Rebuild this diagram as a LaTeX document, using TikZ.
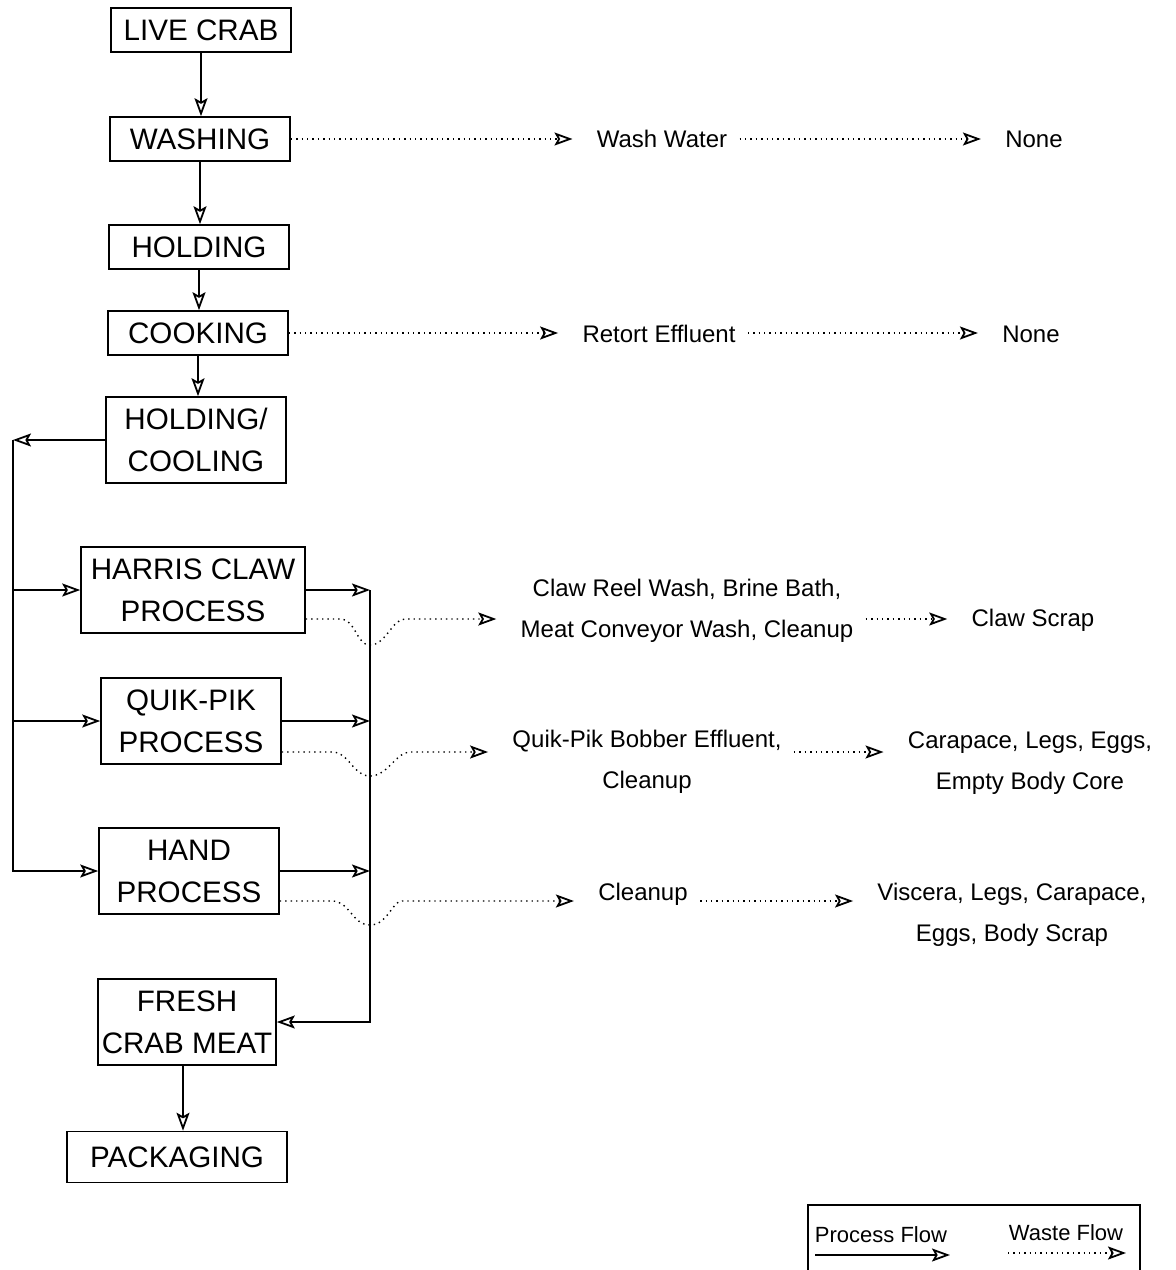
\documentclass[tikz,border=0pt]{standalone}
\usepackage{fontspec}
\setmainfont{Liberation Sans}
\usetikzlibrary{arrows.meta,positioning,calc}
\newcommand{\boxfont}{\fontsize{14.8}{21}\selectfont}
\newcommand{\wastefont}{\fontsize{12}{20.5}\selectfont}
\newcommand{\keyfont}{\fontsize{11}{13}\selectfont}
\tikzset{stepbox/.style={draw,line width=0.8pt,minimum width=90pt,minimum height=22pt,
    inner sep=2pt,align=center,font=\boxfont},
  twoline/.style={stepbox,minimum height=43pt},
  wastetxt/.style={inner xsep=6pt,inner ysep=2pt,align=center,font=\wastefont},
  flow/.style={-{Stealth[open,length=9pt,width=6.5pt,inset=1.8pt,line width=0.9pt]},line width=0.7pt},
  waste/.style={flow,dotted,shorten >=6pt}}
\begin{document}
\begin{tikzpicture}[x=0.5pt,y=-0.5pt]
    \useasboundingbox (0,0) rectangle (1175,1270);
    % process boxes
    \node[stepbox] (live) at (201,30) {LIVE CRAB};
    \node[stepbox] (washing) at (200,139) {WASHING};
    \node[stepbox] (holding) at (199,247) {HOLDING};
    \node[stepbox] (cooking) at (198,333) {COOKING};
    \node[twoline] (cool) at (196,440) {HOLDING/\\COOLING};
    \node[twoline,minimum width=112pt] (harris) at (193,590) {HARRIS CLAW\\PROCESS};
    \node[twoline] (quik) at (191,721) {QUIK-PIK\\PROCESS};
    \node[twoline] (hand) at (189,871) {HAND\\PROCESS};
    \node[twoline,minimum width=89pt,inner sep=0pt] (fresh) at (187,1022) {FRESH\\CRAB MEAT};
    \node[stepbox,minimum width=110pt,minimum height=25.5pt] (pack) at (177,1157) {PACKAGING};
    \draw[flow] (live.south) -- (live.south |- washing.north);
    \draw[flow] (washing.south) -- (washing.south |- holding.north);
    \draw[flow] (holding.south) -- (holding.south |- cooking.north);
    \draw[flow] (cooking.south) -- (cooking.south |- cool.north);
    \draw[flow] ([xshift=-2pt]fresh.south) -- ([xshift=-2pt]fresh.south |- pack.north);
    % split to the three lines
    \coordinate (lt) at (13,440);
    \draw[flow] (cool.west) -- (lt);
    \draw[flow] (lt) |- (hand.west);
    \draw[flow] (lt |- harris.west) -- (harris.west);
    \draw[flow] (lt |- quik.west) -- (quik.west);
    % join to fresh crab meat
    \coordinate (rb) at (370,590);
    \draw[flow] (harris.east) -- (rb);
    \draw[flow] (quik.east) -- (rb |- quik.east);
    \draw[flow] (hand.east) -- (rb |- hand.east);
    \draw[flow] (rb) |- (fresh.east);
    % waste streams
    \node[wastetxt] (washwater) at (662,139) {Wash Water};
    \node[wastetxt] (none1) at (1034,139) {None};
    \draw[waste] (washing.east) -- (washwater.west);
    \draw[waste] (washwater.east) -- (none1.west);
    \node[wastetxt] (retort) at (659,334) {Retort Effluent};
    \node[wastetxt] (none2) at (1031,334) {None};
    \draw[waste] (cooking.east) -- (retort.west |- cooking.east);
    \draw[waste] (retort.east |- cooking.east) -- (none2.west |- cooking.east);
    \node[wastetxt] (clawtxt) at (687,611) {Claw Reel Wash, Brine Bath,\\Meat Conveyor Wash, Cleanup};
    \node[wastetxt] (clawscrap) at (1033,620) {Claw Scrap};
    \coordinate (hw) at ($(harris.east)+(0,29)$);
    \draw[waste] (hw) -- (340,619) .. controls (356,619) and (356,645) .. (370,645)
      .. controls (386,645) and (392,619) .. (405,619) -- (clawtxt.west |- hw);
    \draw[waste] (clawtxt.east |- hw) -- (clawscrap.west |- hw);
    \node[wastetxt] (quiktxt) at (647,762) {Quik-Pik Bobber Effluent,\\Cleanup};
    \node[wastetxt] (carapace) at (1030,763) {Carapace, Legs, Eggs,\\Empty Body Core};
    \coordinate (qw) at ($(quik.east)+(0,31)$);
    \draw[waste] (qw) -- (332,752) .. controls (350,752) and (352,776) .. (370,776)
      .. controls (388,776) and (396,752) .. (410,752) -- (quiktxt.west |- qw);
    \draw[waste] (quiktxt.east |- qw) -- (carapace.west |- qw);
    \node[wastetxt] (handtxt) at (643,894) {Cleanup};
    \node[wastetxt] (viscera) at (1012,915) {Viscera, Legs, Carapace,\\Eggs, Body Scrap};
    \coordinate (kw) at ($(hand.east)+(0,30)$);
    \draw[waste] (kw) -- (332,901) .. controls (350,901) and (352,925) .. (370,925)
      .. controls (388,925) and (392,901) .. (402,901) -- (handtxt.west |- kw);
    \draw[waste] (handtxt.east |- kw) -- (viscera.west |- kw);
    % key
    \draw[line width=0.8pt] (808,1270) |- (1140,1205) -- (1140,1270);
    \node[font=\keyfont] (proclbl) at (881,1235) {Process Flow};
    \node[font=\keyfont] (wastelbl) at (1066,1233) {Waste Flow};
    \coordinate (pa) at (815,1255);
    \coordinate (pb) at (950,1255);
    \coordinate (wa) at (1008,1253);
    \coordinate (wb) at (1126,1253);
    \draw[flow] (pa) -- (pb);
    \draw[flow,dotted] (wa) -- (wb);
  \end{tikzpicture}
\end{document}
